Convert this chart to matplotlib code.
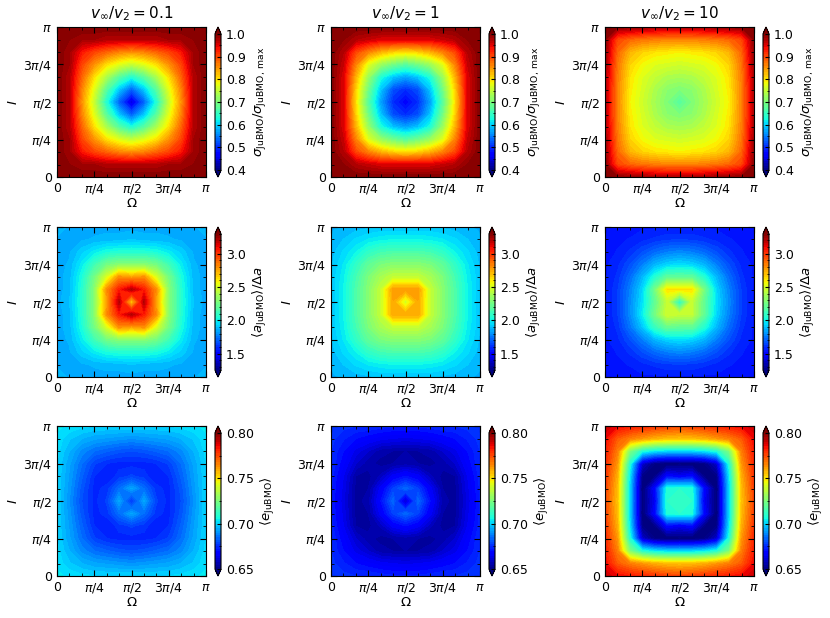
import numpy as np
import matplotlib
matplotlib.use('Agg')
import matplotlib.pyplot as plt
from matplotlib.ticker import FixedLocator, MultipleLocator

# grid of the maps: Omega (columns) and I (rows), both 0..pi in steps of pi/12
omega = np.linspace(0, np.pi, 13)
incl = np.linspace(0, np.pi, 13)

ratios = ['0.1', '1', '10']

# sigma_JuBMO / sigma_JuBMO,max
sig_v01 = [
	[1.00, 1.00, 1.00, 1.00, 1.00, 1.00, 1.00, 1.00, 1.00, 1.00, 1.00, 1.00, 1.00],
	[1.00, 0.99, 0.98, 0.98, 0.97, 0.97, 0.97, 0.97, 0.97, 0.98, 0.98, 0.99, 1.00],
	[1.00, 0.98, 0.93, 0.90, 0.88, 0.86, 0.85, 0.86, 0.88, 0.90, 0.93, 0.98, 1.00],
	[1.00, 0.98, 0.90, 0.85, 0.80, 0.77, 0.75, 0.77, 0.80, 0.85, 0.90, 0.98, 1.00],
	[1.00, 0.97, 0.88, 0.80, 0.73, 0.67, 0.63, 0.67, 0.73, 0.80, 0.88, 0.97, 1.00],
	[1.00, 0.97, 0.86, 0.77, 0.67, 0.59, 0.53, 0.59, 0.67, 0.77, 0.86, 0.97, 1.00],
	[1.00, 0.97, 0.85, 0.75, 0.63, 0.53, 0.45, 0.53, 0.63, 0.75, 0.85, 0.97, 1.00],
	[1.00, 0.97, 0.86, 0.77, 0.67, 0.59, 0.53, 0.59, 0.67, 0.77, 0.86, 0.97, 1.00],
	[1.00, 0.97, 0.88, 0.80, 0.73, 0.67, 0.63, 0.67, 0.73, 0.80, 0.88, 0.97, 1.00],
	[1.00, 0.98, 0.90, 0.85, 0.80, 0.77, 0.75, 0.77, 0.80, 0.85, 0.90, 0.98, 1.00],
	[1.00, 0.98, 0.93, 0.90, 0.88, 0.86, 0.85, 0.86, 0.88, 0.90, 0.93, 0.98, 1.00],
	[1.00, 0.99, 0.98, 0.98, 0.97, 0.97, 0.97, 0.97, 0.97, 0.98, 0.98, 0.99, 1.00],
	[1.00, 1.00, 1.00, 1.00, 1.00, 1.00, 1.00, 1.00, 1.00, 1.00, 1.00, 1.00, 1.00],
]
sig_v1 = [
	[1.00, 1.00, 1.00, 1.00, 1.00, 1.00, 1.00, 1.00, 1.00, 1.00, 1.00, 1.00, 1.00],
	[1.00, 0.99, 0.97, 0.96, 0.95, 0.95, 0.95, 0.95, 0.95, 0.96, 0.97, 0.99, 1.00],
	[1.00, 0.97, 0.90, 0.86, 0.83, 0.81, 0.80, 0.81, 0.83, 0.86, 0.90, 0.97, 1.00],
	[1.00, 0.96, 0.86, 0.77, 0.72, 0.69, 0.67, 0.69, 0.72, 0.77, 0.86, 0.96, 1.00],
	[1.00, 0.95, 0.83, 0.72, 0.63, 0.59, 0.57, 0.59, 0.63, 0.72, 0.83, 0.95, 1.00],
	[1.00, 0.95, 0.81, 0.69, 0.59, 0.52, 0.50, 0.52, 0.59, 0.69, 0.81, 0.95, 1.00],
	[1.00, 0.95, 0.80, 0.67, 0.57, 0.50, 0.47, 0.50, 0.57, 0.67, 0.80, 0.95, 1.00],
	[1.00, 0.95, 0.81, 0.69, 0.59, 0.52, 0.50, 0.52, 0.59, 0.69, 0.81, 0.95, 1.00],
	[1.00, 0.95, 0.83, 0.72, 0.63, 0.59, 0.57, 0.59, 0.63, 0.72, 0.83, 0.95, 1.00],
	[1.00, 0.96, 0.86, 0.77, 0.72, 0.69, 0.67, 0.69, 0.72, 0.77, 0.86, 0.96, 1.00],
	[1.00, 0.97, 0.90, 0.86, 0.83, 0.81, 0.80, 0.81, 0.83, 0.86, 0.90, 0.97, 1.00],
	[1.00, 0.99, 0.97, 0.96, 0.95, 0.95, 0.95, 0.95, 0.95, 0.96, 0.97, 0.99, 1.00],
	[1.00, 1.00, 1.00, 1.00, 1.00, 1.00, 1.00, 1.00, 1.00, 1.00, 1.00, 1.00, 1.00],
]
sig_v10 = [
	[1.00, 0.99, 0.985, 0.98, 0.975, 0.97, 0.97, 0.97, 0.975, 0.98, 0.985, 0.99, 1.00],
	[0.99, 0.90, 0.88, 0.87, 0.865, 0.86, 0.86, 0.86, 0.865, 0.87, 0.88, 0.90, 0.99],
	[0.985, 0.88, 0.83, 0.81, 0.80, 0.795, 0.79, 0.795, 0.80, 0.81, 0.83, 0.88, 0.985],
	[0.98, 0.87, 0.81, 0.785, 0.77, 0.765, 0.76, 0.765, 0.77, 0.785, 0.81, 0.87, 0.98],
	[0.975, 0.865, 0.80, 0.77, 0.75, 0.735, 0.73, 0.735, 0.75, 0.77, 0.80, 0.865, 0.975],
	[0.97, 0.86, 0.795, 0.765, 0.735, 0.71, 0.70, 0.71, 0.735, 0.765, 0.795, 0.86, 0.97],
	[0.97, 0.86, 0.79, 0.76, 0.73, 0.70, 0.67, 0.70, 0.73, 0.76, 0.79, 0.86, 0.97],
	[0.97, 0.86, 0.795, 0.765, 0.735, 0.71, 0.70, 0.71, 0.735, 0.765, 0.795, 0.86, 0.97],
	[0.975, 0.865, 0.80, 0.77, 0.75, 0.735, 0.73, 0.735, 0.75, 0.77, 0.80, 0.865, 0.975],
	[0.98, 0.87, 0.81, 0.785, 0.77, 0.765, 0.76, 0.765, 0.77, 0.785, 0.81, 0.87, 0.98],
	[0.985, 0.88, 0.83, 0.81, 0.80, 0.795, 0.79, 0.795, 0.80, 0.81, 0.83, 0.88, 0.985],
	[0.99, 0.90, 0.88, 0.87, 0.865, 0.86, 0.86, 0.86, 0.865, 0.87, 0.88, 0.90, 0.99],
	[1.00, 0.99, 0.985, 0.98, 0.975, 0.97, 0.97, 0.97, 0.975, 0.98, 0.985, 0.99, 1.00],
]

# <a_JuBMO> / Delta a
a_v01 = [
	[1.88, 1.86, 1.86, 1.85, 1.85, 1.85, 1.85, 1.85, 1.85, 1.85, 1.86, 1.86, 1.88],
	[1.86, 1.84, 1.86, 1.87, 1.88, 1.88, 1.90, 1.88, 1.88, 1.87, 1.86, 1.84, 1.86],
	[1.86, 1.86, 1.92, 1.98, 2.03, 2.05, 2.05, 2.05, 2.03, 1.98, 1.92, 1.86, 1.86],
	[1.85, 1.87, 1.98, 2.12, 2.25, 2.30, 2.30, 2.30, 2.25, 2.12, 1.98, 1.87, 1.85],
	[1.85, 1.88, 2.03, 2.25, 2.50, 2.80, 2.75, 2.80, 2.50, 2.25, 2.03, 1.88, 1.85],
	[1.85, 1.88, 2.05, 2.30, 2.80, 3.05, 3.20, 3.05, 2.80, 2.30, 2.05, 1.88, 1.85],
	[1.85, 1.90, 2.05, 2.30, 2.75, 3.20, 2.65, 3.20, 2.75, 2.30, 2.05, 1.90, 1.85],
	[1.85, 1.88, 2.05, 2.30, 2.80, 3.05, 3.20, 3.05, 2.80, 2.30, 2.05, 1.88, 1.85],
	[1.85, 1.88, 2.03, 2.25, 2.50, 2.80, 2.75, 2.80, 2.50, 2.25, 2.03, 1.88, 1.85],
	[1.85, 1.87, 1.98, 2.12, 2.25, 2.30, 2.30, 2.30, 2.25, 2.12, 1.98, 1.87, 1.85],
	[1.86, 1.86, 1.92, 1.98, 2.03, 2.05, 2.05, 2.05, 2.03, 1.98, 1.92, 1.86, 1.86],
	[1.86, 1.84, 1.86, 1.87, 1.88, 1.88, 1.90, 1.88, 1.88, 1.87, 1.86, 1.84, 1.86],
	[1.88, 1.86, 1.86, 1.85, 1.85, 1.85, 1.85, 1.85, 1.85, 1.85, 1.86, 1.86, 1.88],
]
a_v1 = [
	[1.86, 1.87, 1.88, 1.89, 1.90, 1.90, 1.90, 1.90, 1.90, 1.89, 1.88, 1.87, 1.86],
	[1.87, 1.90, 1.94, 1.97, 1.99, 2.00, 2.00, 2.00, 1.99, 1.97, 1.94, 1.90, 1.87],
	[1.88, 1.94, 2.00, 2.08, 2.13, 2.15, 2.15, 2.15, 2.13, 2.08, 2.00, 1.94, 1.88],
	[1.89, 1.97, 2.08, 2.20, 2.27, 2.30, 2.30, 2.30, 2.27, 2.20, 2.08, 1.97, 1.89],
	[1.90, 1.99, 2.13, 2.27, 2.38, 2.45, 2.45, 2.45, 2.38, 2.27, 2.13, 1.99, 1.90],
	[1.90, 2.00, 2.15, 2.30, 2.45, 2.75, 2.75, 2.75, 2.45, 2.30, 2.15, 2.00, 1.90],
	[1.90, 2.00, 2.15, 2.30, 2.45, 2.75, 2.48, 2.75, 2.45, 2.30, 2.15, 2.00, 1.90],
	[1.90, 2.00, 2.15, 2.30, 2.45, 2.78, 2.78, 2.78, 2.45, 2.30, 2.15, 2.00, 1.90],
	[1.90, 1.99, 2.13, 2.27, 2.38, 2.45, 2.45, 2.45, 2.38, 2.27, 2.13, 1.99, 1.90],
	[1.89, 1.97, 2.08, 2.20, 2.27, 2.30, 2.30, 2.30, 2.27, 2.20, 2.08, 1.97, 1.89],
	[1.88, 1.94, 2.00, 2.08, 2.13, 2.15, 2.15, 2.15, 2.13, 2.08, 2.00, 1.94, 1.88],
	[1.87, 1.90, 1.94, 1.97, 1.99, 2.00, 2.00, 2.00, 1.99, 1.97, 1.94, 1.90, 1.87],
	[1.86, 1.87, 1.88, 1.89, 1.90, 1.90, 1.90, 1.90, 1.90, 1.89, 1.88, 1.87, 1.86],
]
a_v10 = [
	[1.55, 1.54, 1.54, 1.55, 1.55, 1.55, 1.55, 1.55, 1.55, 1.55, 1.54, 1.54, 1.55],
	[1.54, 1.55, 1.56, 1.58, 1.60, 1.62, 1.62, 1.62, 1.60, 1.58, 1.56, 1.55, 1.54],
	[1.54, 1.56, 1.60, 1.66, 1.72, 1.76, 1.78, 1.76, 1.72, 1.66, 1.60, 1.56, 1.54],
	[1.55, 1.58, 1.66, 1.76, 1.87, 1.93, 1.95, 1.93, 1.87, 1.76, 1.66, 1.58, 1.55],
	[1.55, 1.60, 1.74, 1.90, 2.10, 2.22, 2.20, 2.20, 2.05, 1.87, 1.72, 1.60, 1.55],
	[1.55, 1.62, 1.78, 1.98, 2.25, 2.48, 2.45, 2.45, 2.20, 1.93, 1.76, 1.62, 1.55],
	[1.55, 1.62, 1.78, 1.95, 2.20, 2.45, 2.05, 2.45, 2.20, 1.95, 1.78, 1.62, 1.55],
	[1.55, 1.62, 1.76, 1.93, 2.25, 2.62, 2.62, 2.62, 2.25, 1.93, 1.76, 1.62, 1.55],
	[1.55, 1.60, 1.72, 1.87, 2.05, 2.20, 2.20, 2.20, 2.05, 1.87, 1.72, 1.60, 1.55],
	[1.55, 1.58, 1.66, 1.76, 1.87, 1.93, 1.95, 1.93, 1.87, 1.76, 1.66, 1.58, 1.55],
	[1.54, 1.56, 1.60, 1.66, 1.72, 1.76, 1.78, 1.76, 1.72, 1.66, 1.60, 1.56, 1.54],
	[1.54, 1.55, 1.56, 1.58, 1.60, 1.62, 1.62, 1.62, 1.60, 1.58, 1.56, 1.55, 1.54],
	[1.55, 1.54, 1.54, 1.55, 1.55, 1.55, 1.55, 1.55, 1.55, 1.55, 1.54, 1.54, 1.55],
]

# <e_JuBMO>
e_v01 = [
	[.703, .702, .701, .700, .700, .700, .700, .700, .700, .700, .701, .702, .703],
	[.702, .698, .695, .693, .692, .691, .690, .691, .692, .693, .695, .698, .702],
	[.701, .695, .689, .685, .683, .681, .680, .681, .683, .685, .689, .695, .701],
	[.700, .693, .685, .678, .675, .674, .674, .674, .675, .678, .685, .693, .700],
	[.700, .692, .683, .675, .673, .676, .678, .676, .673, .675, .683, .692, .700],
	[.700, .691, .681, .674, .676, .685, .693, .685, .676, .674, .681, .691, .700],
	[.700, .690, .680, .674, .678, .693, .676, .693, .678, .674, .680, .690, .700],
	[.700, .691, .681, .674, .676, .685, .693, .685, .676, .674, .681, .691, .700],
	[.700, .692, .683, .675, .673, .676, .678, .676, .673, .675, .683, .692, .700],
	[.700, .693, .685, .678, .675, .674, .674, .674, .675, .678, .685, .693, .700],
	[.701, .695, .689, .685, .683, .681, .680, .681, .683, .685, .689, .695, .701],
	[.702, .698, .695, .693, .692, .691, .690, .691, .692, .693, .695, .698, .702],
	[.703, .702, .701, .700, .700, .700, .700, .700, .700, .700, .701, .702, .703],
]
e_v1 = [
	[.677, .676, .675, .675, .674, .673, .673, .673, .674, .675, .675, .676, .677],
	[.676, .673, .670, .668, .666, .665, .664, .665, .666, .668, .670, .673, .676],
	[.675, .670, .664, .660, .656, .655, .655, .655, .656, .660, .664, .670, .675],
	[.675, .668, .660, .656, .654, .655, .656, .655, .654, .656, .660, .668, .675],
	[.674, .665, .655, .654, .658, .666, .670, .666, .658, .654, .655, .665, .674],
	[.673, .664, .654, .655, .666, .678, .684, .678, .666, .655, .654, .664, .673],
	[.673, .663, .654, .656, .670, .684, .660, .684, .670, .656, .654, .663, .673],
	[.673, .664, .654, .655, .666, .678, .684, .678, .666, .655, .654, .664, .673],
	[.674, .665, .655, .654, .658, .666, .670, .666, .658, .654, .655, .665, .674],
	[.675, .668, .660, .656, .654, .655, .656, .655, .654, .656, .660, .668, .675],
	[.675, .670, .664, .660, .656, .655, .655, .655, .656, .660, .664, .670, .675],
	[.676, .673, .670, .668, .666, .665, .664, .665, .666, .668, .670, .673, .676],
	[.677, .676, .675, .675, .674, .673, .673, .673, .674, .675, .675, .676, .677],
]
e_v10 = [
	[.790, .785, .782, .780, .778, .776, .775, .776, .778, .780, .782, .785, .790],
	[.785, .772, .766, .762, .758, .756, .755, .756, .758, .762, .766, .772, .785],
	[.782, .766, .725, .708, .702, .700, .700, .700, .702, .708, .725, .766, .782],
	[.780, .762, .708, .660, .650, .647, .648, .647, .650, .660, .708, .762, .780],
	[.778, .758, .702, .650, .650, .668, .665, .668, .650, .650, .702, .758, .778],
	[.776, .756, .700, .647, .668, .708, .710, .708, .668, .647, .700, .756, .776],
	[.775, .755, .700, .648, .665, .710, .712, .710, .665, .648, .700, .755, .775],
	[.776, .756, .700, .647, .668, .708, .710, .708, .668, .647, .700, .756, .776],
	[.778, .758, .702, .650, .650, .668, .665, .668, .650, .650, .702, .758, .778],
	[.780, .762, .708, .660, .650, .647, .648, .647, .650, .660, .708, .762, .780],
	[.782, .766, .725, .708, .702, .700, .700, .700, .702, .708, .725, .766, .782],
	[.785, .772, .766, .762, .758, .756, .755, .756, .758, .762, .766, .772, .785],
	[.790, .785, .782, .780, .778, .776, .775, .776, .778, .780, .782, .785, .790],
]

maps = [[sig_v01, sig_v1, sig_v10],
		[a_v01, a_v1, a_v10],
		[e_v01, e_v1, e_v10]]

# colour ranges and colorbar ticks of each row
vranges = [(0.4, 1.0), (1.25, 3.3), (0.65, 0.80)]
cticks = [[0.4, 0.5, 0.6, 0.7, 0.8, 0.9, 1.0],
		  [1.5, 2.0, 2.5, 3.0],
		  [0.65, 0.70, 0.75, 0.80]]
cticklabels = [['0.4', '0.5', '0.6', '0.7', '0.8', '0.9', '1.0'],
			   ['1.5', '2.0', '2.5', '3.0'],
			   ['0.65', '0.70', '0.75', '0.80']]
cminor = [0.05, 0.1, 0.025]
clabels = [r'$\sigma_{\rm JuBMO}/\sigma_{\rm JuBMO,\,max}$',
		   r'$\langle a_{\rm JuBMO}\rangle/\Delta a$',
		   r'$\langle e_{\rm JuBMO}\rangle$']

pi_ticks = [0, np.pi/4, np.pi/2, 3*np.pi/4, np.pi]
pi_labels = ['0', r'$\pi/4$', r'$\pi/2$', r'$3\pi/4$', r'$\pi$']

W, H = 830., 618.
col_left = [57, 331, 605]
row_top = [27, 227, 426]
pw, ph = 149, 150

fig = plt.figure(figsize=(W/100, H/100), dpi=100)

for r in range(3):
	vmin, vmax = vranges[r]
	levels = np.linspace(vmin, vmax, 61)
	for c in range(3):
		bottom = 1 - (row_top[r] + ph) / H
		ax = fig.add_axes([col_left[c]/W, bottom, pw/W, ph/H])
		cs = ax.contourf(omega, incl, np.array(maps[r][c]), levels=levels,
						 cmap='jet', extend='both')
		ax.set_xlim(0, np.pi)
		ax.set_ylim(0, np.pi)
		ax.xaxis.set_major_locator(FixedLocator(pi_ticks))
		ax.yaxis.set_major_locator(FixedLocator(pi_ticks))
		ax.set_xticklabels(pi_labels)
		ax.set_yticklabels(pi_labels)
		ax.xaxis.set_minor_locator(MultipleLocator(np.pi/12))
		ax.yaxis.set_minor_locator(MultipleLocator(np.pi/12))
		ax.tick_params(which='both', direction='in', top=True, right=True, labelsize=9)
		ax.tick_params(which='major', length=4)
		ax.tick_params(which='minor', length=2)
		ax.set_xlabel(r'$\Omega$', fontsize=9.5, labelpad=1)
		ax.set_ylabel(r'$I$', fontsize=9.5, labelpad=2)
		if r == 0:
			ax.set_title(r'$v_\infty/v_2 = %s$' % ratios[c], fontsize=11)

		cax = fig.add_axes([(col_left[c] + pw + 9)/W, bottom, 6/W, ph/H])
		cb = fig.colorbar(cs, cax=cax, ticks=cticks[r])
		cb.ax.set_yticklabels(cticklabels[r])
		cb.ax.yaxis.set_minor_locator(MultipleLocator(cminor[r]))
		cb.ax.tick_params(which='both', direction='in', labelsize=9)
		cb.ax.tick_params(which='major', length=3)
		cb.ax.tick_params(which='minor', length=1.5)
		cb.outline.set_linewidth(0.8)
		cb.set_label(clabels[r], fontsize=9.5)

fig.savefig('out.png', dpi=100)
